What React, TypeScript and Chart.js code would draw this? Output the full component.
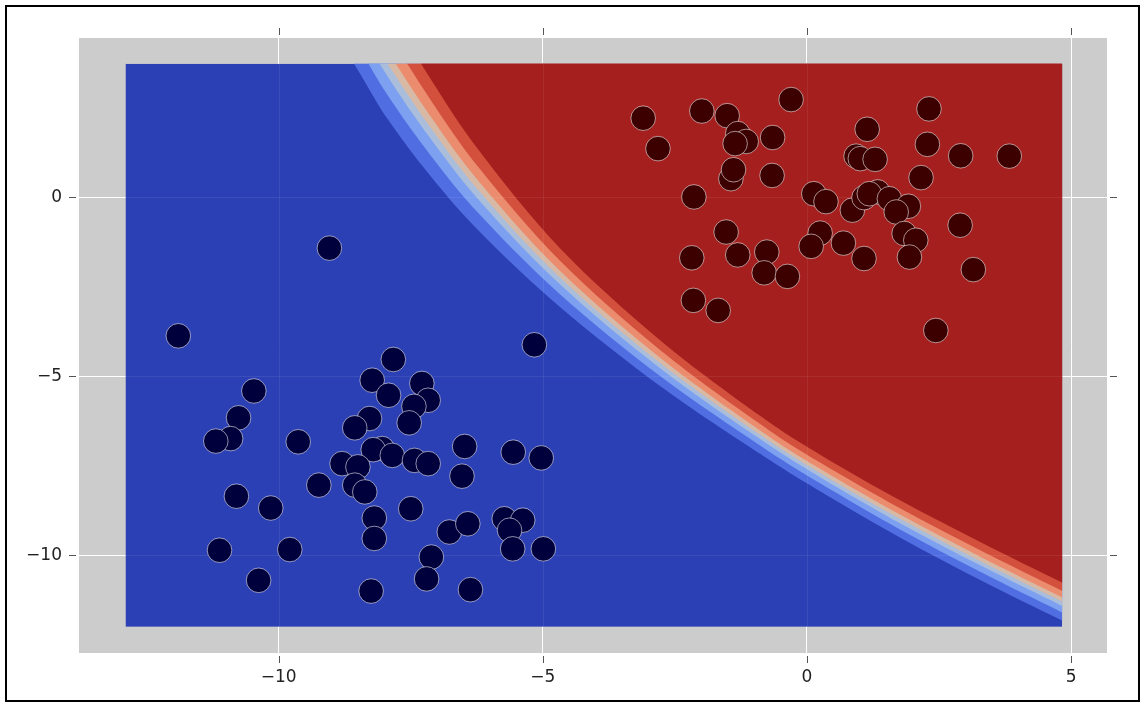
import { useEffect, useRef } from 'react';
import { Chart, registerables } from 'chart.js';

Chart.register(...registerables);

// ---- Data ----
const xTickValues = [-10, -5, 0, 5];
const yTickValues = [-10, -5, 0];

const redX = [-3.10, -2.82, -1.99, -1.51, -0.30, -1.31, -1.15, -1.36, -0.65, -1.44, -1.39, -0.66, -2.14, 0.13, 0.36, -1.53, 0.25, 0.08, -2.18, -1.31, -0.76, -0.81, -0.37, -2.15, -1.68, 2.31, 1.14, 2.28, 2.91, 3.83, 0.93, 1.01, 1.29, 2.16, 0.86, 1.08, 1.34, 1.18, 1.56, 1.92, 1.69, 1.84, 2.06, 1.94, 2.90, 0.69, 1.08, 3.15, 2.44];
const redY = [2.21, 1.36, 2.41, 2.28, 2.73, 1.78, 1.56, 1.50, 1.67, 0.52, 0.77, 0.61, 0.01, 0.10, -0.12, -0.97, -1.00, -1.37, -1.69, -1.61, -1.53, -2.11, -2.21, -2.88, -3.16, 2.47, 1.90, 1.48, 1.16, 1.15, 1.15, 1.08, 1.06, 0.55, -0.36, -0.01, 0.15, 0.10, -0.04, -0.25, -0.41, -1.01, -1.20, -1.67, -0.78, -1.28, -1.71, -2.02, -3.72];

const blueX = [-11.90, -10.47, -10.76, -10.91, -11.19, -9.63, -10.80, -10.15, -9.24, -11.12, -9.79, -10.38, -9.04, -5.16, -7.83, -8.23, -7.92, -7.29, -7.17, -7.44, -7.53, -8.28, -8.56, -8.04, -8.21, -7.85, -7.43, -7.17, -8.80, -8.50, -8.56, -8.37, -6.48, -6.53, -5.56, -5.03, -7.50, -8.19, -8.19, -6.77, -6.42, -7.11, -7.20, -8.25, -6.37, -5.73, -5.38, -5.63, -5.57, -4.99];
const blueY = [-3.87, -5.41, -6.16, -6.74, -6.81, -6.83, -8.35, -8.68, -8.04, -9.86, -9.84, -10.70, -1.42, -4.12, -4.53, -5.11, -5.53, -5.20, -5.67, -5.84, -6.30, -6.18, -6.44, -7.02, -7.05, -7.21, -7.35, -7.44, -7.44, -7.53, -8.04, -8.23, -6.96, -7.79, -7.12, -7.28, -8.70, -8.96, -9.53, -9.35, -9.12, -10.05, -10.66, -11.00, -10.96, -8.98, -9.02, -9.30, -9.82, -9.82];

const boundaryX = [-9.3, -8.45, -7.93, -7.13, -6.19, -4.67, -2.78, -0.88, 0.25, 1.77, 3.28, 4.81, 5.74];
const boundaryY = [7.14, 5.01, 3.72, 1.96, 0.15, -2.25, -4.63, -6.64, -7.70, -8.99, -10.16, -11.28, -11.95];
const bandHalf = [1.6, 1.58, 1.55, 1.36, 1.12, 0.82, 0.64, 0.53, 0.51, 0.52, 0.53, 0.53, 0.53];
const bandLevels = [-1, -0.57, -0.23, 0, 0.23, 0.57, 1];
const bandColors = [
  'rgb(44,64,182)',
  'rgb(80,110,225)',
  'rgb(125,160,240)',
  'rgb(170,190,220)',
  'rgb(215,185,165)',
  'rgb(235,140,110)',
  'rgb(210,80,60)',
  'rgb(165,31,30)',
];

const X_MIN = -13.78;
const X_MAX = 5.68;
const Y_MIN = -12.73;
const Y_MAX = 4.45;

const FONT = { family: 'DejaVu Sans', size: 17 };

function fmt(v: number) {
  return v < 0 ? '\u2212' + Math.abs(v) : String(v);
}

function smoothTo(ctx: CanvasRenderingContext2D, pts: { x: number; y: number }[]) {
  ctx.moveTo(pts[0].x, pts[0].y);
  for (let i = 0; i < pts.length - 1; i++) {
    const p0 = pts[i - 1] || pts[i];
    const p1 = pts[i];
    const p2 = pts[i + 1];
    const p3 = pts[i + 2] || p2;
    ctx.bezierCurveTo(
      p1.x + (p2.x - p0.x) / 6, p1.y + (p2.y - p0.y) / 6,
      p2.x - (p3.x - p1.x) / 6, p2.y - (p3.y - p1.y) / 6,
      p2.x, p2.y
    );
  }
}

const contourPlugin = {
  id: 'contour',
  beforeDraw(chart: any) {
    const { ctx, chartArea } = chart;
    ctx.save();
    ctx.fillStyle = '#ffffff';
    ctx.fillRect(0, 0, chart.width, chart.height);
    ctx.fillStyle = '#cccccc';
    ctx.fillRect(chartArea.left, chartArea.top, chartArea.right - chartArea.left, chartArea.bottom - chartArea.top);
    ctx.restore();
  },
  beforeDatasetsDraw(chart: any) {
    const { ctx } = chart;
    const xs = chart.scales.x;
    const ys = chart.scales.y;
    const allX = [...redX, ...blueX];
    const allY = [...redY, ...blueY];
    const cx0 = xs.getPixelForValue(Math.min(...allX) - 1);
    const cx1 = xs.getPixelForValue(Math.max(...allX) + 1);
    const cy0 = ys.getPixelForValue(Math.max(...allY) + 1);
    const cy1 = ys.getPixelForValue(Math.min(...allY) - 1);
    ctx.save();
    ctx.beginPath();
    ctx.rect(cx0, cy0, cx1 - cx0, cy1 - cy0);
    ctx.clip();
    ctx.fillStyle = bandColors[0];
    ctx.fillRect(cx0, cy0, cx1 - cx0, cy1 - cy0);
    const farTop = cy0 - 100;
    const farRight = cx1 + 100;
    bandLevels.forEach((lv, k) => {
      const pts = boundaryX.map((bx, i) => ({
        x: xs.getPixelForValue(bx),
        y: ys.getPixelForValue(boundaryY[i] + lv * bandHalf[i]),
      }));
      ctx.beginPath();
      smoothTo(ctx, pts);
      const last = pts[pts.length - 1];
      ctx.lineTo(farRight, last.y);
      ctx.lineTo(farRight, farTop);
      ctx.lineTo(pts[0].x, farTop);
      ctx.closePath();
      ctx.fillStyle = bandColors[k + 1];
      ctx.fill();
    });
    // faint grid showing through the filled contour
    ctx.strokeStyle = 'rgba(255,255,255,0.07)';
    ctx.lineWidth = 1;
    xTickValues.forEach((v) => {
      const p = Math.round(xs.getPixelForValue(v)) + 0.5;
      ctx.beginPath();
      ctx.moveTo(p, cy0);
      ctx.lineTo(p, cy1);
      ctx.stroke();
    });
    yTickValues.forEach((v) => {
      const p = Math.round(ys.getPixelForValue(v)) + 0.5;
      ctx.beginPath();
      ctx.moveTo(cx0, p);
      ctx.lineTo(cx1, p);
      ctx.stroke();
    });
    ctx.restore();
  },
  afterDraw(chart: any) {
    const { ctx, chartArea } = chart;
    const xs = chart.scales.x;
    const ys = chart.scales.y;
    ctx.save();
    ctx.strokeStyle = '#555555';
    ctx.lineWidth = 1;
    xTickValues.forEach((v) => {
      const p = Math.round(xs.getPixelForValue(v)) + 0.5;
      ctx.beginPath();
      ctx.moveTo(p, chartArea.top - 10);
      ctx.lineTo(p, chartArea.top - 3);
      ctx.moveTo(p, chartArea.bottom + 3);
      ctx.lineTo(p, chartArea.bottom + 10);
      ctx.stroke();
    });
    yTickValues.forEach((v) => {
      const p = Math.round(ys.getPixelForValue(v)) + 0.5;
      ctx.beginPath();
      ctx.moveTo(chartArea.left - 10, p);
      ctx.lineTo(chartArea.left - 3, p);
      ctx.moveTo(chartArea.right + 3, p);
      ctx.lineTo(chartArea.right + 10, p);
      ctx.stroke();
    });
    // figure frame
    ctx.strokeStyle = '#000000';
    ctx.lineWidth = 2;
    ctx.strokeRect(6, 6, 1133, 695);
    ctx.restore();
  },
};

export default function App() {
  const ref = useRef<HTMLCanvasElement | null>(null);
  useEffect(() => {
    const canvas = ref.current;
    if (!canvas) return;
    const chart = new Chart(canvas, {
      type: 'scatter',
      data: {
        datasets: [
          {
            label: 'class 0',
            data: blueX.map((x, i) => ({ x, y: blueY[i] })),
            backgroundColor: '#00003c',
            borderColor: 'rgba(255,255,255,0.55)',
            borderWidth: 1,
            pointRadius: 12.3,
            pointHoverRadius: 12.3,
          },
          {
            label: 'class 1',
            data: redX.map((x, i) => ({ x, y: redY[i] })),
            backgroundColor: '#3c0000',
            borderColor: 'rgba(255,255,255,0.55)',
            borderWidth: 1,
            pointRadius: 12.3,
            pointHoverRadius: 12.3,
          },
        ],
      },
      options: {
        responsive: false,
        animation: false,
        devicePixelRatio: 1,
        layout: { padding: { top: 38, right: 34, left: 0, bottom: 0 } },
        plugins: {
          legend: { display: false },
          tooltip: { enabled: false },
        },
        events: [],
        scales: {
          x: {
            type: 'linear',
            position: 'bottom',
            min: X_MIN,
            max: X_MAX,
            afterBuildTicks: (s: any) => {
              s.ticks = xTickValues.map((v) => ({ value: v }));
            },
            afterFit: (s: any) => {
              s.height = 51;
            },
            ticks: {
              callback: (v: any) => fmt(Number(v)),
              font: FONT,
              color: '#222222',
              padding: 14,
              maxRotation: 0,
            },
            grid: { color: '#ffffff', lineWidth: 1, drawTicks: false },
            border: { display: false },
          },
          y: {
            type: 'linear',
            position: 'left',
            min: Y_MIN,
            max: Y_MAX,
            afterBuildTicks: (s: any) => {
              s.ticks = yTickValues.map((v) => ({ value: v }));
            },
            afterFit: (s: any) => {
              s.width = 79;
            },
            ticks: {
              callback: (v: any) => fmt(Number(v)),
              font: FONT,
              color: '#222222',
              padding: 17,
            },
            grid: { color: '#ffffff', lineWidth: 1, drawTicks: false },
            border: { display: false },
          },
        },
      },
      plugins: [contourPlugin],
    });
    return () => chart.destroy();
  }, []);
  return (
    <div style={{ position: 'fixed', left: 0, top: 0, width: 1141, height: 704, background: '#ffffff' }}>
      <canvas ref={ref} width={1141} height={704} style={{ display: 'block', width: 1141, height: 704 }} />
    </div>
  );
}
